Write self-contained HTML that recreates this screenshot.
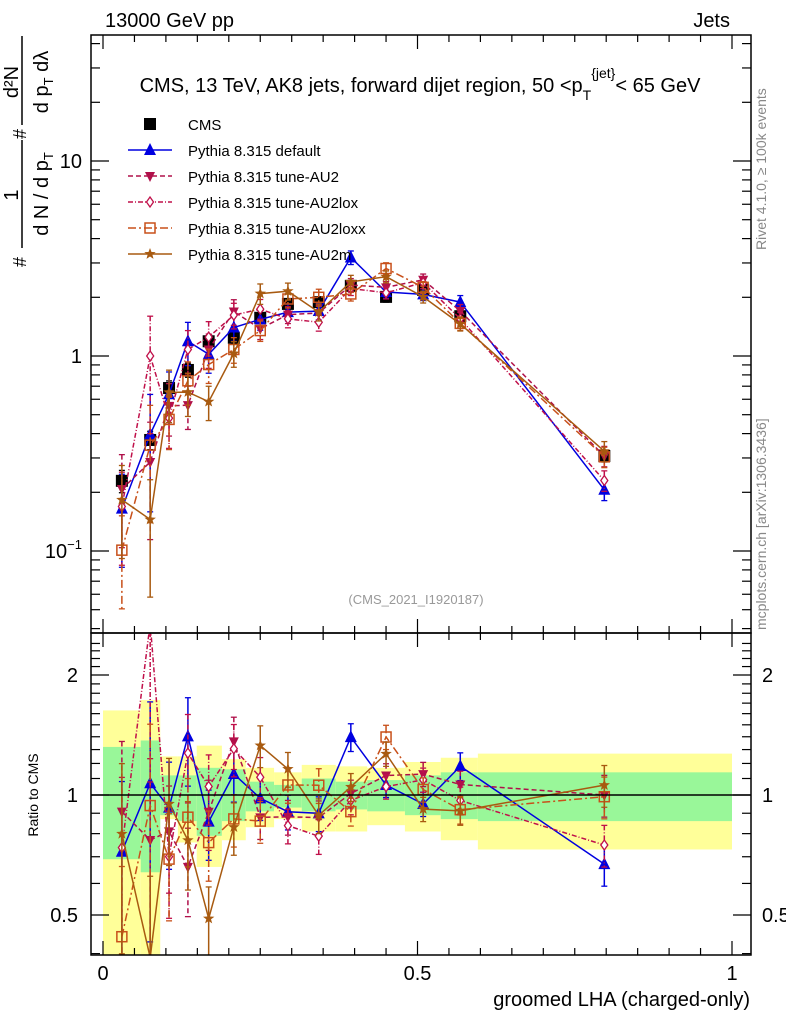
<!DOCTYPE html>
<html><head><meta charset="utf-8"><style>
body{margin:0;background:#fff;overflow:hidden}
svg{display:block;font-family:"Liberation Sans",sans-serif}
</style></head><body>
<svg id="c" width="786" height="1024" xmlns="http://www.w3.org/2000/svg">
<defs>
<clipPath id="cu"><rect x="91" y="35" width="660" height="598"/></clipPath>
<clipPath id="cl"><rect x="91" y="633" width="660" height="322"/></clipPath>
</defs>
<g id="bands" clip-path="url(#cl)"></g>
<g id="marksU" clip-path="url(#cu)"></g>
<g id="marksL" clip-path="url(#cl)"></g>
<g id="axes"></g>
<text x="105" y="27" font-size="20">13000 GeV pp</text>
<text x="730" y="27" font-size="20" text-anchor="end">Jets</text>
<text x="420" y="92" font-size="20" text-anchor="middle">CMS, 13 TeV, AK8 jets, forward dijet region, 50 &lt;p<tspan font-size="14" dy="8">T</tspan><tspan font-size="14" dy="-22">{jet}</tspan><tspan dy="14">&lt; 65 GeV</tspan></text>
<g font-size="20">
<text transform="translate(26,262) rotate(-90)" font-size="18" text-anchor="middle">#</text>
<text transform="translate(18,195) rotate(-90)" text-anchor="middle">1</text>
<line x1="22" y1="248" x2="22" y2="140" stroke="#000" stroke-width="1.5"/>
<text transform="translate(48,194) rotate(-90)" text-anchor="middle">d N / d p<tspan font-size="13" dy="5">T</tspan></text>
<text transform="translate(26,134) rotate(-90)" font-size="18" text-anchor="middle">#</text>
<text transform="translate(18,82) rotate(-90)" text-anchor="middle">d²N</text>
<line x1="22" y1="125" x2="22" y2="36" stroke="#000" stroke-width="1.5"/>
<text transform="translate(48,82) rotate(-90)" text-anchor="middle">d p<tspan font-size="13" dy="5">T</tspan><tspan dy="-5"> dλ</tspan></text>
</g>
<text transform="translate(38,795) rotate(-90)" font-size="14" text-anchor="middle">Ratio to CMS</text>
<text x="750" y="1006" font-size="20" text-anchor="end">groomed LHA (charged-only)</text>
<text transform="translate(766,250) rotate(-90)" font-size="14" fill="#888">Rivet 4.1.0, ≥ 100k events</text>
<text transform="translate(766,630) rotate(-90)" font-size="14" fill="#888">mcplots.cern.ch [arXiv:1306.3436]</text>
<text x="416" y="604" font-size="13" fill="#999" text-anchor="middle">(CMS_2021_I1920187)</text>
<g id="legend"></g>
</svg>
<script>
const xs = [0.030,0.075,0.105,0.135,0.168,0.208,0.250,0.294,0.343,0.394,0.450,0.509,0.568,0.797];
const edges = [0,0.060,0.091,0.119,0.149,0.189,0.227,0.272,0.316,0.370,0.420,0.480,0.537,0.596,1.0];
const cms = [0.229,0.371,0.685,0.848,1.19,1.24,1.57,1.85,1.89,2.29,2.01,2.18,1.60,0.307];
const cmsErr = [0.03,0.04,0.06,0.07,0.08,0.09,0.10,0.10,0.10,0.12,0.12,0.12,0.10,0.02];
const pDefault = [0.165,0.397,0.637,1.19,1.02,1.40,1.54,1.68,1.70,3.20,2.13,2.07,1.89,0.206];
const pAU2 = [0.208,0.286,0.555,0.560,1.08,1.69,1.38,1.63,1.66,2.31,2.25,2.46,1.70,0.307];
const pAU2lox = [0.169,1.00,0.480,1.08,1.25,1.62,1.74,1.55,1.49,2.22,2.11,2.38,1.55,0.230];
const pAU2loxx = [0.101,0.349,0.473,0.746,0.904,1.08,1.35,1.96,2.00,2.08,2.81,2.25,1.47,0.304];
const pAU2m = [0.183,0.145,0.651,0.653,0.583,1.03,2.09,2.15,1.68,2.40,2.55,2.01,1.46,0.325];
const relErr = [0.5,0.6,0.3,0.25,0.2,0.15,0.12,0.1,0.1,0.08,0.07,0.07,0.08,0.12];
const greenLo = [0.69,0.64,0.89,0.86,0.79,0.86,0.91,0.93,0.91,0.92,0.91,0.89,0.87,0.86];
const greenHi = [1.32,1.37,1.12,1.12,1.17,1.16,1.08,1.06,1.10,1.08,1.09,1.12,1.14,1.14];
const yellowLo = [0.30,0.30,0.87,0.76,0.66,0.77,0.83,0.87,0.81,0.81,0.84,0.81,0.77,0.73];
const yellowHi = [1.63,1.73,1.25,1.25,1.33,1.23,1.17,1.14,1.19,1.18,1.17,1.21,1.24,1.27];
const xTicks = [0,0.5,1];
const xTickLabels = ["0","0.5","1"];
const rTicks = [0.5,1,2];
const rTickLabels = ["0.5","1","2"];

const NS="http://www.w3.org/2000/svg";
const X=v=>103+629*v;
const YU=v=>356-195*Math.log10(v);
const YL=r=>795-398.6*Math.log10(r);
function mk(parent,tag,attrs){const e=document.createElementNS(NS,tag);for(const k in attrs)e.setAttribute(k,attrs[k]);parent.appendChild(e);return e;}
const bands=document.getElementById('bands'),mu=document.getElementById('marksU'),ml=document.getElementById('marksL'),ax=document.getElementById('axes'),lg=document.getElementById('legend');

for(let i=0;i<cms.length;i++){
  const x1=X(edges[i]),w=X(edges[i+1])-x1;
  let r=mk(bands,'rect',{x:x1,y:YL(yellowHi[i]),width:w,height:YL(yellowLo[i])-YL(yellowHi[i]),fill:'#ffff99'});
  
  
  r=mk(bands,'rect',{x:x1,y:YL(greenHi[i]),width:w,height:YL(greenLo[i])-YL(greenHi[i]),fill:'#99f799'});
  
  
}
let one=mk(ax,'line',{x1:91,x2:751,y1:YL(1),y2:YL(1),stroke:'#000','stroke-width':1.5});



function marker(g,type,x,y,col){
  const s=6;
  if(type==='sq') return mk(g,'rect',{x:x-s,y:y-s,width:2*s,height:2*s,fill:'#000'});
  if(type==='tu') return mk(g,'path',{d:`M${x},${y-7}L${x+6},${y+5}L${x-6},${y+5}Z`,fill:col});
  if(type==='td') return mk(g,'path',{d:`M${x},${y+6}L${x+5},${y-4}L${x-5},${y-4}Z`,fill:col});
  if(type==='di') return mk(g,'path',{d:`M${x},${y-5}L${x+3.5},${y}L${x},${y+5}L${x-3.5},${y}Z`,fill:'#fff',stroke:col,'stroke-width':1.3});
  if(type==='os') return mk(g,'rect',{x:x-5,y:y-5,width:10,height:10,fill:'none',stroke:col,'stroke-width':1.5});
  if(type==='st'){let p='';for(let k=0;k<10;k++){const a=-Math.PI/2+k*Math.PI/5,rr=k%2?2.5:6;p+=(k?'L':'M')+(x+rr*Math.cos(a)).toFixed(1)+','+(y+rr*Math.sin(a)).toFixed(1);}return mk(g,'path',{d:p+'Z',fill:col});}
}
const series=[
 {name:'Pythia 8.315 default',vals:pDefault,col:'#0000e0',m:'tu',dash:'',key:'default'},
 {name:'Pythia 8.315 tune-AU2',vals:pAU2,col:'#b0104a',m:'td',dash:'5,3',key:'au2'},
 {name:'Pythia 8.315 tune-AU2lox',vals:pAU2lox,col:'#c0104a',m:'di',dash:'5,2,1,2',key:'au2lox'},
 {name:'Pythia 8.315 tune-AU2loxx',vals:pAU2loxx,col:'#c8501a',m:'os',dash:'8,3,2,3',key:'au2loxx'},
 {name:'Pythia 8.315 tune-AU2m',vals:pAU2m,col:'#a85a10',m:'st',dash:'',key:'au2m'}
];
function drawSeries(g,vals,errs,col,m,dash,Y,key){
  const sg=mk(g,'g',{});
  
  
  let d='';
  vals.forEach((v,i)=>{d+=(i?'L':'M')+X(xs[i]).toFixed(1)+','+Y(v).toFixed(1);});
  if(col!=='#000') mk(sg,'path',{d,fill:'none',stroke:col,'stroke-width':1.5,'stroke-dasharray':dash});
  vals.forEach((v,i)=>{
    const x=X(xs[i]),e=errs[i];
    const y1=Y(v+e),y2=Y(Math.max(v-e,1e-3));
    mk(sg,'line',{x1:x,x2:x,y1,y2,stroke:col,'stroke-width':1.5,'stroke-dasharray':dash});
    mk(sg,'line',{x1:x-3,x2:x+3,y1,y2:y1,stroke:col,'stroke-width':1.3});
    mk(sg,'line',{x1:x-3,x2:x+3,y1:y2,y2:y2,stroke:col,'stroke-width':1.3});
    const mm=marker(sg,m,x,Y(v),col);
    
    
  });
}
drawSeries(mu,cms,cmsErr,'#000','sq','',YU,'cms');
series.forEach(s=>{
  drawSeries(mu,s.vals,s.vals.map((v,i)=>v*relErr[i]),s.col,s.m,s.dash,YU,s.key);
  const rat=s.vals.map((v,i)=>v/cms[i]);
  drawSeries(ml,rat,rat.map((v,i)=>v*relErr[i]),s.col,s.m,s.dash,YL,s.key+'-ratio');
});

let f=mk(ax,'rect',{x:91,y:35,width:660,height:598,fill:'none',stroke:'#000','stroke-width':1.5});


f=mk(ax,'rect',{x:91,y:633,width:660,height:322,fill:'none',stroke:'#000','stroke-width':1.5});


for(let v=0;v<=1.0001;v+=0.05){
  const big=Math.abs(v*10-Math.round(v*10))<1e-6 && Math.round(v*10)%5===0;
  const L=big?14:7;
  [[633,-1],[955,-1],[35,1],[633,1]].forEach(([y0,dir])=>{mk(ax,'line',{x1:X(v),x2:X(v),y1:y0,y2:y0+dir*L,stroke:'#000','stroke-width':1.2});});
}
xTicks.forEach((v,i)=>{const t=mk(ax,'text',{x:X(v),y:980,'font-size':20,'text-anchor':'middle'});t.textContent=xTickLabels[i];
  
  });
for(let dec=-2;dec<=1;dec++)for(let k=1;k<10;k++){
  const v=k*Math.pow(10,dec),y=YU(v);if(y<35||y>633)continue;
  const L=k===1?18:9;
  mk(ax,'line',{x1:91,x2:91+L,y1:y,y2:y,stroke:'#000','stroke-width':1.2});
  mk(ax,'line',{x1:751,x2:751-L,y1:y,y2:y,stroke:'#000','stroke-width':1.2});
}
[[10,'10'],[1,'1']].forEach(([v,l])=>{const t=mk(ax,'text',{x:82,y:YU(v)+7,'font-size':20,'text-anchor':'end'});t.textContent=l;
  
  });
{const t=mk(ax,'text',{x:82,y:YU(0.1)+7,'font-size':20,'text-anchor':'end'});t.innerHTML='10<tspan font-size="13" dy="-9">−1</tspan>';
  
  }
for(let r=0.4;r<=2.5;r+=0.1){
  const y=YL(r);if(y<633||y>955)continue;
  const big=[0.5,1,2].some(q=>Math.abs(q-r)<1e-6);const L=big?18:9;
  mk(ax,'line',{x1:91,x2:91+L,y1:y,y2:y,stroke:'#000','stroke-width':1.2});
  mk(ax,'line',{x1:751,x2:751-L,y1:y,y2:y,stroke:'#000','stroke-width':1.2});
}
rTicks.forEach((v,i)=>{
  let t=mk(ax,'text',{x:78,y:YL(v)+7,'font-size':20,'text-anchor':'end'});t.textContent=rTickLabels[i];
  
  
  t=mk(ax,'text',{x:762,y:YL(v)+7,'font-size':20});t.textContent=rTickLabels[i];
  
  
});
const legItems=[{name:'CMS',col:'#000',m:'sq',dash:''}].concat(series);
legItems.forEach((s,i)=>{
  const g=mk(lg,'g',{});
  
  
  const y=124+26*i;
  if(i>0) mk(g,'line',{x1:128,x2:172,y1:y,y2:y,stroke:s.col,'stroke-width':1.5,'stroke-dasharray':s.dash});
  marker(g,s.m,150,y,s.col);
  const t=mk(g,'text',{x:188,y:y+6,'font-size':15});t.textContent=s.name;
});
</script>
</body></html>
